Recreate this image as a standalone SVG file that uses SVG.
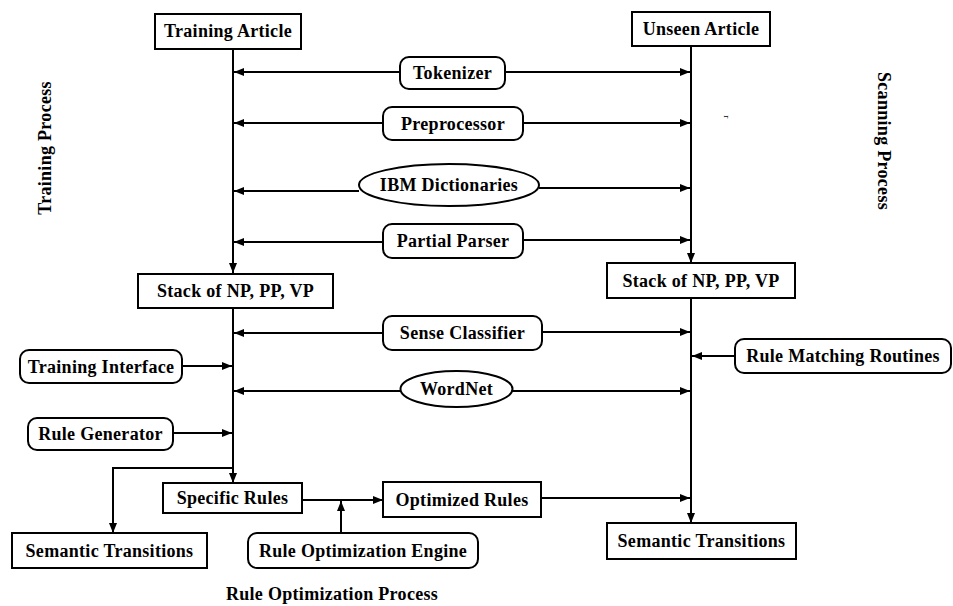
<svg xmlns="http://www.w3.org/2000/svg" width="953" height="606" viewBox="0 0 953 606">
<style>
.b{fill:#fff;stroke:#000;stroke-width:2}
.t{font-family:"Liberation Serif",serif;font-weight:bold;font-size:18px;letter-spacing:0.3px;fill:#000;text-anchor:middle;dominant-baseline:central}
.c{fill:none;stroke:#000;stroke-width:2}
</style>
<defs>
<marker id="a" viewBox="0 0 10 8" refX="10" refY="4" markerWidth="10" markerHeight="8" markerUnits="userSpaceOnUse" orient="auto"><path d="M0,0 L10,4 L0,8 Z" fill="#000"/></marker>
</defs>
<rect width="953" height="606" fill="#fff"/>
<g id="connectors">
<path class="c" d="M233,49 V273" marker-end="url(#a)"/>
<path class="c" d="M691,46 V263" marker-end="url(#a)"/>
<path class="c" d="M233,308 V483" marker-end="url(#a)"/>
<path class="c" d="M691,298 V523" marker-end="url(#a)"/>
<path class="c" d="M400,72 H234" marker-end="url(#a)"/>
<path class="c" d="M505,72 H690" marker-end="url(#a)"/>
<path class="c" d="M383,123 H234" marker-end="url(#a)"/>
<path class="c" d="M523,123 H690" marker-end="url(#a)"/>
<path class="c" d="M359,191 H234" marker-end="url(#a)"/>
<path class="c" d="M539,188 H690" marker-end="url(#a)"/>
<path class="c" d="M383,242 H234" marker-end="url(#a)"/>
<path class="c" d="M523,240 H690" marker-end="url(#a)"/>
<path class="c" d="M383,333 H234" marker-end="url(#a)"/>
<path class="c" d="M542,332 H690" marker-end="url(#a)"/>
<path class="c" d="M182,366 H232" marker-end="url(#a)"/>
<path class="c" d="M735,356 H692" marker-end="url(#a)"/>
<path class="c" d="M401,391 H234" marker-end="url(#a)"/>
<path class="c" d="M512,391 H690" marker-end="url(#a)"/>
<path class="c" d="M173,433 H232" marker-end="url(#a)"/>
<path class="c" d="M233,468 H113 V533" marker-end="url(#a)"/>
<path class="c" d="M302,500 H383" marker-end="url(#a)"/>
<path class="c" d="M341,533 V501" marker-end="url(#a)"/>
<path class="c" d="M541,498 H690" marker-end="url(#a)"/>
</g>
<g id="training-article"><rect class="b" x="155" y="14" width="146" height="35"/><text class="t" x="228" y="31">Training Article</text></g>
<g id="unseen-article"><rect class="b" x="632" y="12" width="138" height="34"/><text class="t" x="701" y="29">Unseen Article</text></g>
<g id="tokenizer"><rect class="b" x="400" y="57" width="105" height="32" rx="9"/><text class="t" x="452.5" y="73">Tokenizer</text></g>
<g id="preprocessor"><rect class="b" x="383" y="107" width="140" height="33" rx="9"/><text class="t" x="453" y="123.5">Preprocessor</text></g>
<g id="ibm-dictionaries"><ellipse class="b" cx="449" cy="185" rx="90" ry="21"/><text class="t" x="449" y="185">IBM Dictionaries</text></g>
<g id="partial-parser"><rect class="b" x="383" y="224" width="140" height="34" rx="9"/><text class="t" x="453" y="241">Partial Parser</text></g>
<g id="stack-left"><rect class="b" x="138" y="274" width="195" height="34"/><text class="t" x="235.5" y="291">Stack of NP, PP, VP</text></g>
<g id="stack-right"><rect class="b" x="607" y="263" width="188" height="35"/><text class="t" x="701" y="280.5">Stack of NP, PP, VP</text></g>
<g id="sense-classifier"><rect class="b" x="383" y="316" width="159" height="34" rx="9"/><text class="t" x="462.5" y="333">Sense Classifier</text></g>
<g id="training-interface"><rect class="b" x="20" y="350" width="162" height="33" rx="9"/><text class="t" x="101" y="366.5">Training Interface</text></g>
<g id="rule-matching-routines"><rect class="b" x="735" y="339" width="216" height="34" rx="9"/><text class="t" x="843" y="356">Rule Matching Routines</text></g>
<g id="wordnet"><ellipse class="b" cx="456.5" cy="389" rx="56" ry="18"/><text class="t" x="456.5" y="389">WordNet</text></g>
<g id="rule-generator"><rect class="b" x="28" y="418" width="145" height="32" rx="9"/><text class="t" x="100.5" y="434">Rule Generator</text></g>
<g id="specific-rules"><rect class="b" x="163" y="483" width="139" height="30"/><text class="t" x="232.5" y="498">Specific Rules</text></g>
<g id="optimized-rules"><rect class="b" x="383" y="482" width="158" height="35"/><text class="t" x="462" y="499.5">Optimized Rules</text></g>
<g id="semantic-transitions-left"><rect class="b" x="12" y="533" width="195" height="35"/><text class="t" x="109.5" y="550.5">Semantic Transitions</text></g>
<g id="rule-optimization-engine"><rect class="b" x="248" y="533" width="230" height="35" rx="9"/><text class="t" x="363" y="550.5">Rule Optimization Engine</text></g>
<g id="semantic-transitions-right"><rect class="b" x="607" y="523" width="189" height="36"/><text class="t" x="701.5" y="541">Semantic Transitions</text></g>
<g id="labels">
<text class="t" x="332" y="594">Rule Optimization Process</text>
<text class="t" transform="translate(45,148) rotate(-90)">Training Process</text>
<text class="t" transform="translate(884,141) rotate(90)">Scanning Process</text>
<text class="t" style="font-size:9px;font-weight:normal" transform="translate(727,117) rotate(90)">r</text>
</g>
</svg>
